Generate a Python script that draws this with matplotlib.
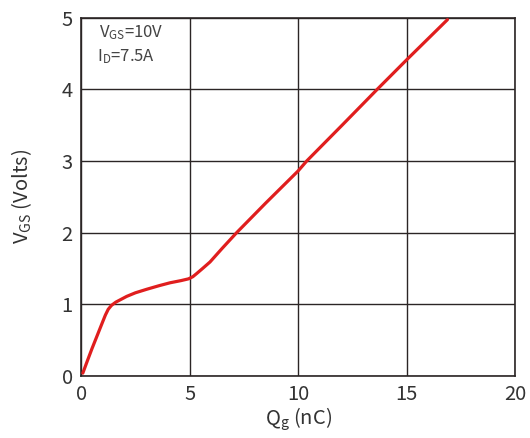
import matplotlib
matplotlib.use("Agg")
import matplotlib.pyplot as plt

# gate charge curve
qg_nc = [0.08, 0.3, 0.5, 0.75, 1.0, 1.12, 1.25, 1.4, 1.6, 1.85, 2.1, 2.5, 3.03, 3.6, 4.1, 4.6, 4.95,
         5.15, 5.33, 5.6, 5.94, 6.5, 7.17, 8.5, 10.0, 10.4, 12.0, 13.65, 15.0, 16.88]
vgs = [0.04, 0.22, 0.38, 0.57, 0.76, 0.85, 0.93, 0.985, 1.03, 1.07, 1.11, 1.16, 1.21, 1.26, 1.30, 1.33, 1.355,
       1.385, 1.43, 1.50, 1.59, 1.78, 2.0, 2.41, 2.86, 3.0, 3.49, 4.0, 4.41, 4.97]

x_ticks = [0, 5, 10, 15, 20]
y_ticks = [0, 1, 2, 3, 4, 5]

plt.rcParams['font.family'] = ['Noto Sans CJK JP', 'DejaVu Sans']
plt.rcParams['mathtext.fontset'] = 'custom'
plt.rcParams['mathtext.rm'] = 'Noto Sans CJK JP'
plt.rcParams['mathtext.it'] = 'Noto Sans CJK JP'

fig = plt.figure(figsize=(5.3, 4.38), dpi=100)
ax = fig.add_axes([0.153, 0.1416, 0.819, 0.8184])

ax.plot(qg_nc, vgs, color='#e01e1e', linewidth=2.3, solid_joinstyle='round', solid_capstyle='round', zorder=3)

ax.set_xlim(0, 20)
ax.set_ylim(0, 5)
ax.set_xticks(x_ticks)
ax.set_yticks(y_ticks)
ax.grid(True, color='#2b2525', linewidth=1.0)
ax.tick_params(length=0, labelsize=14.5, labelcolor='#333333', pad=6)
for s in ax.spines.values():
    s.set_color('#2b2525')
    s.set_linewidth(1.2)

ax.set_xlabel(r'Q$_\mathregular{g}$ (nC)', fontsize=14.5, color='#333333', labelpad=0)
ax.set_ylabel(r'V$_\mathregular{GS}$ (Volts)', fontsize=14.5, color='#333333', labelpad=20)

ax.text(0.041, 0.946, r'V$_\mathregular{GS}$=10V', transform=ax.transAxes, fontsize=12,
        color='#444444', va='baseline')
ax.text(0.036, 0.879, r'I$_\mathregular{D}$=7.5A', transform=ax.transAxes, fontsize=12,
        color='#444444', va='baseline')

fig.savefig('out.png', dpi=100)
